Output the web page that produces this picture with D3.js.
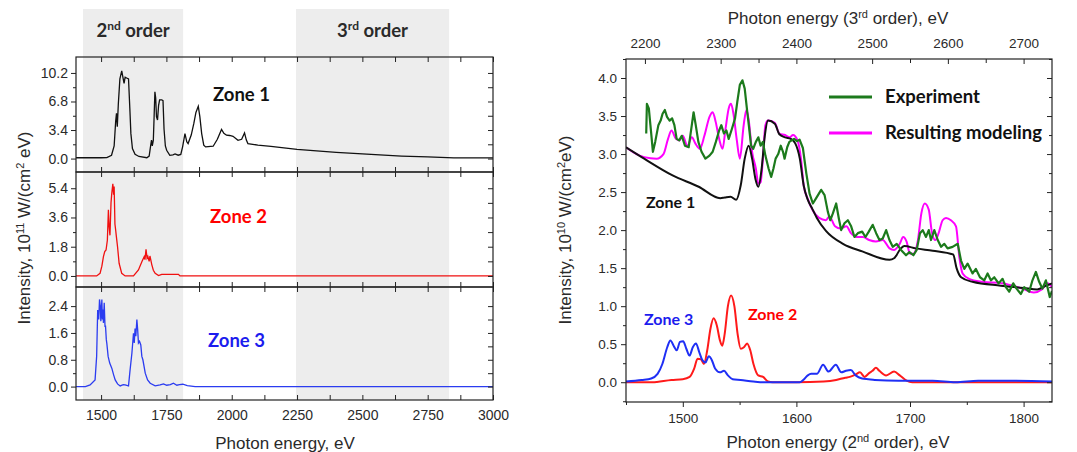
<!DOCTYPE html>
<html>
<head>
<meta charset="utf-8">
<script src="https://cdn.jsdelivr.net/npm/d3@7"></script>
<style>
  body { margin: 0; background: #fff; }
  svg { display: block; }
  text { font-family: "Liberation Sans", Arial, sans-serif; fill: #2a2a2a; }
  .lbl { font-family: Lato, "Open Sans", sans-serif; font-weight: bold; }
</style>
</head>
<body>
<svg id="chart" width="1077" height="452"></svg>
<script>
// ---- left panel: full spectra, [photon energy eV, intensity 1e11 W/(cm2 eV)]
const zone1Full = [[1404,0.1],[1500,0.1],[1522,0.12],[1540,0.4],[1550,1.5],[1556,4.5],[1559,5.4],[1562,3.8],[1566,6.5],[1572,9.5],[1579,10.45],[1584,9.6],[1588,8.95],[1592,9.7],[1598,9.6],[1605,9.5],[1610,6],[1614,3],[1620,1.2],[1630,0.5],[1645,0.25],[1675,0.1],[1684,0.3],[1690,1.6],[1693,2.2],[1696,1.5],[1700,2.2],[1703,5],[1706,7.95],[1709,7.2],[1712,5.0],[1716,4.6],[1720,6.3],[1724,7.0],[1732,7.0],[1737,6.9],[1741,3.5],[1746,1.5],[1751,0.99],[1763,0.39],[1775,0.45],[1783,0.55],[1795,0.4],[1805,0.5],[1812,1.4],[1821,2.98],[1828,2.0],[1833,1.79],[1845,2.8],[1855,4.18],[1863,5.5],[1872,6.24],[1878,5.0],[1885,2.98],[1893,1.6],[1900,1.39],[1929,1.47],[1945,2.3],[1961,3.46],[1970,3.0],[1980,2.78],[1992,2.75],[2005,2.66],[2024,2.18],[2038,2.3],[2049,3.06],[2056,2.2],[2062,1.79],[2100,1.6],[2150,1.45],[2250,1.1],[2400,0.75],[2500,0.55],[2650,0.3],[2750,0.2],[2850,0.08],[3000,0.08]]
const zone2Full = [[1404,0],[1483,0],[1496,0.16],[1503,0.6],[1509,1.19],[1514,1.5],[1519,1.6],[1524,2.2],[1528,4.07],[1531,3.0],[1534,2.5],[1538,4.5],[1541,5.1],[1545,5.67],[1548,5.0],[1550,5.5],[1553,3.2],[1556,2.8],[1558,2.5],[1563,1.8],[1569,0.78],[1579,0.16],[1592,0],[1624,0],[1643,0.37],[1656,0.88],[1665,1.19],[1668,1.0],[1672,1.64],[1676,1.1],[1679,1.2],[1684,0.9],[1687,1.23],[1690,1.0],[1694,0.7],[1700,0.35],[1707,0.16],[1720,0.02],[1732,0.1],[1796,0.1],[1802,0],[3000,0]]
const zone3Full = [[1404,0],[1440,0],[1458,0.05],[1477,0.2],[1483,0.9],[1487,2.28],[1491,2.0],[1494,2.6],[1497,2.4],[1499,1.95],[1503,2.6],[1505,2.0],[1507,2.3],[1509,1.9],[1512,2.5],[1515,1.8],[1517,1.8],[1520,1.4],[1522,1.29],[1527,0.9],[1533,0.7],[1541,0.55],[1548,0.35],[1554,0.2],[1563,0.08],[1573,0.02],[1585,0.06],[1592,0.05],[1605,0.02],[1611,0.5],[1618,1.0],[1624,1.59],[1627,1.3],[1630,1.73],[1633,1.5],[1637,2.0],[1640,1.7],[1643,1.3],[1647,1.35],[1652,1.24],[1656,0.9],[1660,0.8],[1669,0.4],[1678,0.2],[1688,0.1],[1707,0.02],[1726,0.05],[1739,0.08],[1751,0.04],[1765,0.06],[1777,0.1],[1790,0.04],[1800,0.06],[1813,0.07],[1830,0.03],[1860,0],[3000,0]]

const orderBands = [[1431,1814],[2246,2832]]
const orderNames = [['2','nd'],['3','rd']]
const leftXMajor = [1500,1750,2000,2250,2500,2750,3000]
const leftXMinor = [1625,1875,2125,2375,2625,2875]
const zone1Ticks = [0,3.4,6.8,10.2], zone1Minor = [1.7,5.1,8.5]
const zone2Ticks = [0,1.8,3.6,5.4], zone2Minor = [0.9,2.7,4.5]
const zone3Ticks = [0,0.8,1.6,2.4], zone3Minor = [0.4,1.2,2.0]

// ---- right panel: zoom, [2nd order energy eV, intensity 1e10 W/(cm2 eV)]
const zone1Right = [[1450,3.09],[1466,2.94],[1491,2.72],[1514,2.57],[1533,2.42],[1537,2.43],[1542,2.44],[1547,2.40],[1551,2.59],[1554.5,2.94],[1558,3.11],[1561,2.94],[1564,2.67],[1566.5,2.57],[1569.4,2.81],[1572.2,3.24],[1575,3.44],[1581,3.40],[1585,3.26],[1590,3.22],[1595,3.20],[1599,3.14],[1603,2.94],[1606.5,2.58],[1610,2.40],[1614,2.28],[1618,2.16],[1626,1.99],[1641,1.82],[1658,1.72],[1682,1.61],[1686,1.63],[1692,1.76],[1695,1.79],[1705,1.76],[1720,1.73],[1738,1.68],[1741,1.5],[1745,1.38],[1755,1.32],[1780,1.27],[1800,1.24],[1812,1.22],[1820,1.27],[1825,1.3]]
const modelRight = [[1450,3.09],[1457,3.02],[1466,2.96],[1477,2.94],[1483,3.0],[1487,3.2],[1490,3.31],[1494,3.2],[1497,3.18],[1500,3.24],[1504,3.11],[1508,3.22],[1511,3.14],[1515,3.07],[1519,3.24],[1523.5,3.49],[1526.3,3.55],[1529,3.42],[1532,3.2],[1535,3.07],[1537.6,3.33],[1540.4,3.6],[1542.4,3.66],[1544.6,3.53],[1547.4,3.2],[1550.2,2.94],[1553.6,3.38],[1556,3.58],[1558,3.45],[1561,3.03],[1564.3,2.81],[1566.5,2.61],[1568.5,2.63],[1570.5,2.94],[1572.7,3.38],[1575,3.44],[1581,3.41],[1585,3.27],[1590,3.25],[1594,3.22],[1597,3.25],[1601,3.18],[1604,2.94],[1606.5,2.58],[1610,2.41],[1614,2.27],[1620,2.16],[1626,2.13],[1629,2.18],[1634,2.05],[1639,2.02],[1644,2.05],[1648,1.96],[1653,1.91],[1658.5,1.91],[1664,1.87],[1670,1.85],[1676,1.87],[1682,1.76],[1686,1.74],[1691,1.82],[1694,1.91],[1697,1.85],[1700,1.69],[1703,1.69],[1707,1.87],[1710,2.22],[1713,2.35],[1716.5,2.27],[1719.4,1.96],[1722.3,1.87],[1725.2,1.96],[1728.7,2.13],[1731.7,2.16],[1736,2.13],[1740.5,2.05],[1743.4,1.65],[1746.3,1.43],[1752,1.36],[1764,1.32],[1781,1.30],[1799,1.23],[1809,1.18],[1816,1.22],[1821,1.3],[1825,1.25]]
const expRight = [[1467.8,3.27],[1468.4,3.66],[1470.1,3.60],[1471.5,3.38],[1473.7,3.03],[1475.7,3.16],[1478.5,3.38],[1480.5,3.44],[1482.2,3.53],[1484.2,3.58],[1486.1,3.49],[1488.4,3.44],[1490.6,3.47],[1492.6,3.38],[1494.6,3.20],[1496.8,3.18],[1499.1,3.24],[1501.9,3.11],[1505.2,3.09],[1508.1,3.40],[1509.5,3.55],[1511.4,3.38],[1513.7,3.16],[1516.5,3.03],[1519.9,2.94],[1523.5,2.98],[1526.3,3.03],[1529.1,3.16],[1532,3.31],[1533.9,3.38],[1536.2,3.27],[1538.4,3.31],[1540.4,3.20],[1543.2,3.33],[1546,3.47],[1548,3.69],[1550.2,3.91],[1552.5,3.97],[1554.5,3.86],[1556.4,3.60],[1558.1,3.38],[1560.1,3.11],[1562,3.07],[1564.3,3.16],[1566.5,3.22],[1568.5,3.11],[1570.5,3.16],[1572.7,2.98],[1575.5,2.81],[1577.8,2.70],[1579.8,2.81],[1581.7,2.94],[1584,3.0],[1586.2,3.11],[1588.2,3.03],[1589.6,2.94],[1591.9,3.09],[1593.8,3.16],[1595.8,3.18],[1598,3.20],[1600.5,3.17],[1602.8,3.19],[1605.7,3.08],[1608.7,2.75],[1611.6,2.48],[1614.5,2.35],[1617.4,2.42],[1621.8,2.53],[1624.8,2.46],[1627.7,2.24],[1629.8,2.13],[1632.1,2.22],[1635,2.35],[1637.4,2.15],[1639.4,2.00],[1642.3,2.09],[1645.3,2.13],[1648.2,2.05],[1651.1,1.91],[1654.1,1.96],[1657.9,1.98],[1660.8,1.91],[1663.7,1.98],[1667.2,2.07],[1670.2,1.96],[1673.1,1.87],[1676,1.89],[1679,2.00],[1681.9,1.87],[1684.8,1.78],[1688.3,1.82],[1692.1,1.74],[1696.5,1.67],[1699.5,1.71],[1703,1.67],[1705.9,1.74],[1708.8,1.96],[1711.2,2.00],[1714.1,1.91],[1716.5,2.00],[1718.5,1.87],[1721.4,2.00],[1724.4,1.87],[1727.3,1.78],[1730.2,1.82],[1733.1,1.76],[1737.5,1.78],[1742,1.82],[1744.9,1.60],[1747.8,1.49],[1750.7,1.56],[1755.1,1.43],[1758,1.49],[1761.6,1.38],[1765.4,1.34],[1768.3,1.43],[1771.2,1.34],[1774.2,1.38],[1778,1.30],[1781.5,1.36],[1784.4,1.25],[1787.3,1.19],[1790.9,1.30],[1793.8,1.23],[1797.6,1.16],[1800.5,1.25],[1804.9,1.19],[1807.8,1.34],[1810.8,1.45],[1813.7,1.32],[1816.6,1.23],[1819.6,1.34],[1823,1.12],[1825,1.2]]
const zone2Right = [[1450,0],[1473,0],[1490,0.03],[1500,0.04],[1506,0.07],[1510,0.18],[1513,0.31],[1516,0.30],[1518.6,0.24],[1521.5,0.42],[1524.3,0.70],[1527.1,0.84],[1529.9,0.75],[1532.7,0.55],[1534.7,0.48],[1536.9,0.64],[1539.7,1.0],[1542.5,1.14],[1545.4,1.0],[1548.2,0.64],[1551,0.44],[1553.8,0.46],[1556.6,0.51],[1559.4,0.42],[1562.2,0.24],[1566.4,0.09],[1570.7,0.07],[1575,0.01],[1579,0],[1600,0],[1624,0.01],[1635,0.03],[1643,0.06],[1647,0.07],[1652,0.1],[1656,0.13],[1660,0.07],[1664,0.12],[1667,0.15],[1670,0.19],[1673,0.15],[1679,0.09],[1686,0.14],[1691,0.09],[1697,0.02],[1702,0],[1825,0]]
const zone3Right = [[1450,0.01],[1463.8,0.03],[1472.2,0.05],[1477.8,0.11],[1482,0.24],[1486.3,0.46],[1489.1,0.55],[1491.9,0.48],[1494.7,0.42],[1497.5,0.53],[1500.3,0.54],[1503.1,0.44],[1505.9,0.35],[1508.8,0.46],[1511.6,0.51],[1514.4,0.40],[1517.2,0.29],[1520,0.26],[1522.8,0.34],[1525.6,0.29],[1528.4,0.18],[1532.7,0.13],[1536.3,0.15],[1539.7,0.09],[1543.9,0.04],[1550.9,0.03],[1562,0.01],[1571,0],[1603,0],[1606,0.03],[1610,0.09],[1613,0.11],[1618,0.11],[1623.5,0.23],[1628.3,0.14],[1634.7,0.23],[1639.5,0.13],[1643.7,0.15],[1647.9,0.16],[1652.2,0.09],[1657.8,0.05],[1663.4,0.04],[1669,0.03],[1690,0.02],[1720,0.02],[1740,0.0],[1760,0.02],[1790,0.02],[1825,0.01]]

const rightXMajor = [1500,1600,1700,1800], rightXMinor = [1450,1550,1650,1750]
const topXMajor = [2200,2300,2400,2500,2600,2700], topXMinor = [2250,2350,2450,2550,2650]
const rightYMajor = [0,0.5,1,1.5,2,2.5,3,3.5,4], rightYMinor = [-0.25,0.25,0.75,1.25,1.75,2.25,2.75,3.25,3.75,4.25]
const legendNames = ['Experiment','Resulting modeling']

const svg = d3.select('#chart')
const fmt = d3.format('.1f')

let line = (x, y, curve) => d3.line().x(d => x(d[0])).y(d => y(d[1])).curve(curve || d3.curveLinear)

let axisStyle = (g, size) => {
    g.select('.domain').remove()
    g.selectAll('line').attr('stroke', '#222').attr('stroke-width', 1)
    g.selectAll('text').style('font-size', size + 'px').attr('fill', '#333')
}

// ================= left panel =================
let xL = d3.scaleLinear().domain([1404, 3000]).range([76, 493])
let rows = [
    {top: 57, bot: 172, dom: [-1.6, 12.1], ticks: zone1Ticks, minor: zone1Minor, data: zone1Full, color: '#111', name: 'Zone 1', lx: 213, ly: 101, lc: '#111'},
    {top: 172, bot: 287, dom: [-0.68, 6.4], ticks: zone2Ticks, minor: zone2Minor, data: zone2Full, color: '#f01010', name: 'Zone 2', lx: 210, ly: 223, lc: '#ff0000'},
    {top: 287, bot: 400, dom: [-0.4, 2.97], ticks: zone3Ticks, minor: zone3Minor, data: zone3Full, color: '#2b3cf0', name: 'Zone 3', lx: 208, ly: 347, lc: '#1c1cee'}
]

svg.selectAll('rect.band')
    .data(orderBands)
    .enter()
    .append('rect')
    .attr('class', 'band')
    .attr('x', d => xL(d[0]))
    .attr('width', d => xL(d[1]) - xL(d[0]))
    .attr('y', 9)
    .attr('height', 400 - 9)
    .attr('fill', '#ededed')

let bandText = svg.selectAll('text.band')
    .data(orderBands)
    .enter()
    .append('text')
    .attr('class', 'lbl band')
    .attr('x', d => (xL(d[0]) + xL(d[1])) / 2)
    .attr('y', 37)
    .attr('text-anchor', 'middle')
    .style('font-size', '18.5px')
    .attr('fill', '#111')
bandText.append('tspan').text((d, i) => orderNames[i][0])
bandText.append('tspan').attr('dy', -7).style('font-size', '12px').text((d, i) => orderNames[i][1])
bandText.append('tspan').attr('dy', 7).text(' order')

rows.forEach((r, i) => {
    let y = d3.scaleLinear().domain(r.dom).range([r.bot, r.top])
    let g = svg.append('g')

    g.append('clipPath').attr('id', 'clipL' + i)
        .append('rect').attr('x', 76).attr('y', r.top).attr('width', 417).attr('height', r.bot - r.top)

    g.append('path')
        .datum(r.data)
        .attr('d', line(xL, y))
        .attr('fill', 'none')
        .attr('stroke', r.color)
        .attr('stroke-width', 1.3)
        .attr('clip-path', 'url(#clipL' + i + ')')

    // y axes
    let ay = g.append('g').attr('transform', 'translate(76,0)')
        .call(d3.axisLeft(y).tickValues(r.ticks).tickFormat(fmt).tickSizeInner(5).tickSizeOuter(0).tickPadding(3))
    axisStyle(ay, 14)
    let ayMin = g.append('g').attr('transform', 'translate(76,0)')
        .call(d3.axisLeft(y).tickValues(r.minor).tickFormat('').tickSizeInner(3).tickSizeOuter(0))
    axisStyle(ayMin, 14)
    let ayR = g.append('g').attr('transform', 'translate(493,0)')
        .call(d3.axisRight(y).tickValues(r.ticks.concat(r.minor)).tickFormat('').tickSizeInner(-5).tickSizeOuter(0))
    axisStyle(ayR, 14)

    // x ticks top and bottom of each row, inward
    let axT = g.append('g').attr('transform', 'translate(0,' + r.top + ')')
        .call(d3.axisTop(xL).tickValues(leftXMajor.concat(leftXMinor)).tickFormat('').tickSizeInner(-5).tickSizeOuter(0))
    axisStyle(axT, 14)
    let axB = g.append('g').attr('transform', 'translate(0,' + r.bot + ')')
        .call(d3.axisBottom(xL).tickValues(leftXMajor.concat(leftXMinor)).tickFormat('').tickSizeInner(-5).tickSizeOuter(0))
    axisStyle(axB, 14)

    g.append('rect')
        .attr('x', 76).attr('y', r.top).attr('width', 417).attr('height', r.bot - r.top)
        .attr('fill', 'none').attr('stroke', '#222').attr('stroke-width', 1.2)

    g.append('text')
        .attr('class', 'lbl')
        .attr('x', r.lx).attr('y', r.ly)
        .style('font-size', '18.5px')
        .style('fill', r.lc)
        .text(r.name)
})

let axLabels = svg.append('g').attr('transform', 'translate(0,400)')
    .call(d3.axisBottom(xL).tickValues(leftXMajor).tickFormat(d3.format('d')).tickSize(0).tickPadding(10))
axisStyle(axLabels, 14)

svg.append('text')
    .attr('x', 285).attr('y', 449)
    .attr('text-anchor', 'middle')
    .style('font-size', '17px')
    .text('Photon energy, eV')

let yTitleL = svg.append('text')
    .attr('transform', 'translate(30,228) rotate(-90)')
    .attr('text-anchor', 'middle')
    .style('font-size', '17px')
yTitleL.append('tspan').text('Intensity, 10')
yTitleL.append('tspan').attr('dy', -6).style('font-size', '11px').text('11')
yTitleL.append('tspan').attr('dy', 6).text(' W/(cm')
yTitleL.append('tspan').attr('dy', -6).style('font-size', '11px').text('2')
yTitleL.append('tspan').attr('dy', 6).text(' eV)')

// ================= right panel =================
let xR = d3.scaleLinear().domain([1450, 1825]).range([626, 1052])
let xTop = d3.scaleLinear().domain([1450 * 1.5, 1825 * 1.5]).range([626, 1052])
let yR = d3.scaleLinear().domain([-0.26, 4.25]).range([402, 59])

svg.append('clipPath').attr('id', 'clipR')
    .append('rect').attr('x', 626).attr('y', 59).attr('width', 426).attr('height', 343)

let series = [
    {data: modelRight, color: '#ff00ff', w: 2, smooth: true},
    {data: zone1Right, color: '#111', w: 2, smooth: true},
    {data: expRight, color: '#1c7a1c', w: 2.2, smooth: false},
    {data: zone2Right, color: '#ff1a1a', w: 2, smooth: true},
    {data: zone3Right, color: '#1f2ff5', w: 2, smooth: true}
]
svg.append('g').attr('clip-path', 'url(#clipR)')
    .selectAll('path')
    .data(series)
    .enter()
    .append('path')
    .attr('d', s => line(xR, yR, s.smooth ? d3.curveMonotoneX : d3.curveLinear)(s.data))
    .attr('fill', 'none')
    .attr('stroke', s => s.color)
    .attr('stroke-width', s => s.w)
    .attr('stroke-linejoin', 'round')

let rb = svg.append('g').attr('transform', 'translate(0,402)')
    .call(d3.axisBottom(xR).tickValues(rightXMajor).tickFormat(d3.format('d')).tickSizeInner(5).tickSizeOuter(0).tickPadding(6))
axisStyle(rb, 13.5)
let rbMin = svg.append('g').attr('transform', 'translate(0,402)')
    .call(d3.axisBottom(xR).tickValues(rightXMinor).tickFormat('').tickSizeInner(3).tickSizeOuter(0))
axisStyle(rbMin, 13.5)

let rt = svg.append('g').attr('transform', 'translate(0,59)')
    .call(d3.axisTop(xTop).tickValues(topXMajor).tickFormat(d3.format('d')).tickSizeInner(-5).tickSizeOuter(0).tickPadding(11))
axisStyle(rt, 13.5)
let rtMin = svg.append('g').attr('transform', 'translate(0,59)')
    .call(d3.axisTop(xTop).tickValues(topXMinor).tickFormat('').tickSizeInner(-4).tickSizeOuter(0))
axisStyle(rtMin, 13.5)

let rl = svg.append('g').attr('transform', 'translate(626,0)')
    .call(d3.axisLeft(yR).tickValues(rightYMajor).tickFormat(fmt).tickSizeInner(5).tickSizeOuter(0).tickPadding(4))
axisStyle(rl, 13.5)
let rlMin = svg.append('g').attr('transform', 'translate(626,0)')
    .call(d3.axisLeft(yR).tickValues(rightYMinor).tickFormat('').tickSizeInner(3).tickSizeOuter(0))
axisStyle(rlMin, 13.5)
let rr = svg.append('g').attr('transform', 'translate(1052,0)')
    .call(d3.axisRight(yR).tickValues(rightYMajor).tickFormat('').tickSizeInner(-5).tickSizeOuter(0))
axisStyle(rr, 13.5)
let rrMin = svg.append('g').attr('transform', 'translate(1052,0)')
    .call(d3.axisRight(yR).tickValues(rightYMinor).tickFormat('').tickSizeInner(-3).tickSizeOuter(0))
axisStyle(rrMin, 13.5)

svg.append('rect')
    .attr('x', 626).attr('y', 59).attr('width', 426).attr('height', 343)
    .attr('fill', 'none').attr('stroke', '#222').attr('stroke-width', 1.2)

// legend
let legend = svg.selectAll('g.legend')
    .data(legendNames)
    .enter()
    .append('g')
    .attr('class', 'legend')
    .attr('transform', (d, i) => 'translate(829,' + (97 + i * 36) + ')')
legend.append('line')
    .attr('x1', 0).attr('x2', 43)
    .attr('stroke', (d, i) => i === 0 ? '#1c7a1c' : '#ff00ff')
    .attr('stroke-width', 3)
legend.append('text')
    .attr('class', 'lbl')
    .attr('x', 56).attr('y', 6)
    .style('font-size', '18.5px')
    .style('fill', '#111')
    .text(d => d)

let zoneLabelsR = [
    {name: 'Zone 1', x: 646, y: 208, c: '#111'},
    {name: 'Zone 3', x: 644, y: 325, c: '#1c1cee'},
    {name: 'Zone 2', x: 748, y: 320, c: '#ff0000'}
]
svg.selectAll('text.zr')
    .data(zoneLabelsR)
    .enter()
    .append('text')
    .attr('class', 'lbl zr')
    .attr('x', d => d.x).attr('y', d => d.y)
    .style('font-size', '16px')
    .style('fill', d => d.c)
    .text(d => d.name)

let tTop = svg.append('text')
    .attr('x', 838).attr('y', 24)
    .attr('text-anchor', 'middle')
    .style('font-size', '17px')
tTop.append('tspan').text('Photon energy (3')
tTop.append('tspan').attr('dy', -6).style('font-size', '11px').text('rd')
tTop.append('tspan').attr('dy', 6).text(' order), eV')

let tBot = svg.append('text')
    .attr('x', 838).attr('y', 448)
    .attr('text-anchor', 'middle')
    .style('font-size', '17px')
tBot.append('tspan').text('Photon energy (2')
tBot.append('tspan').attr('dy', -6).style('font-size', '11px').text('nd')
tBot.append('tspan').attr('dy', 6).text(' order), eV')

let yTitleR = svg.append('text')
    .attr('transform', 'translate(571,230) rotate(-90)')
    .attr('text-anchor', 'middle')
    .style('font-size', '17px')
yTitleR.append('tspan').text('Intensity, 10')
yTitleR.append('tspan').attr('dy', -6).style('font-size', '11px').text('10')
yTitleR.append('tspan').attr('dy', 6).text(' W/(cm')
yTitleR.append('tspan').attr('dy', -6).style('font-size', '11px').text('2')
yTitleR.append('tspan').attr('dy', 6).text('eV)')
</script>
</body>
</html>
